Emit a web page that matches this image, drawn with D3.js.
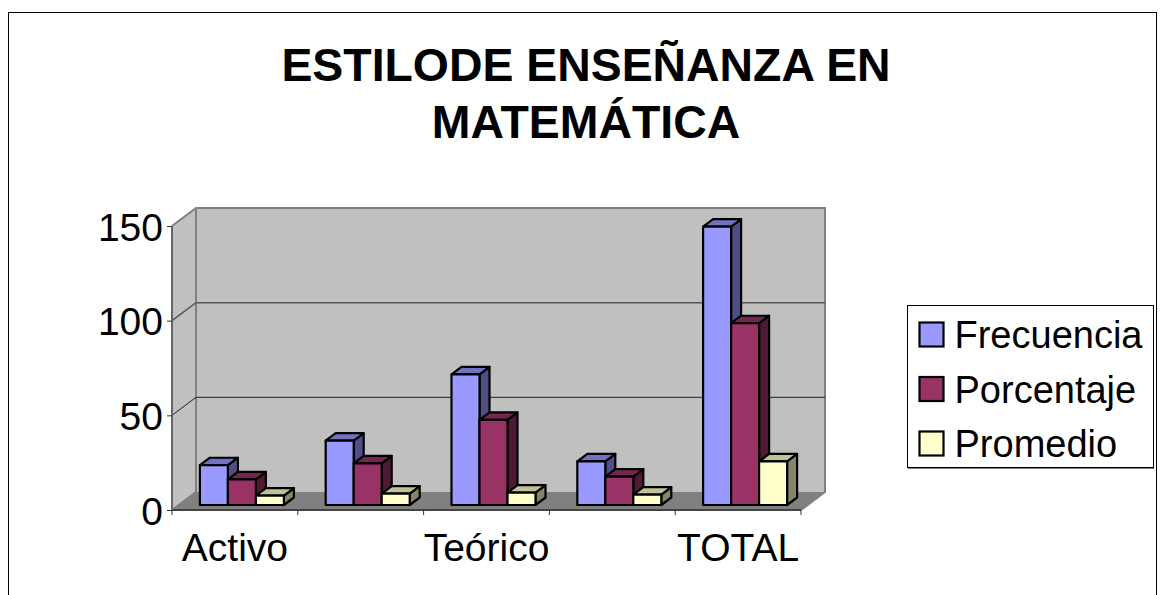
<!DOCTYPE html>
<html><head><meta charset="utf-8">
<script src="https://cdn.jsdelivr.net/npm/d3@7"></script>
<style>html,body{margin:0;padding:0;background:#fff}svg{display:block;font-family:"Liberation Sans",Arial,sans-serif}</style>
</head><body><div id="c"></div>
<script>
const categories = ["Activo", "Cat2", "Teórico", "Cat4", "TOTAL"];
const categoryLabels = ["Activo", "", "Teórico", "", "TOTAL"];
const seriesNames = ["Frecuencia", "Porcentaje", "Promedio"];
const frecuencia = [21, 34, 69, 23, 147];
const porcentaje = [13.5, 22, 45, 15, 96];
const promedio = [5, 6, 6.5, 5.5, 23];
const yTicks = [0, 50, 100, 150];
const titleLines = ["ESTILODE ENSEÑANZA EN", "MATEMÁTICA"];
const colors = ["#9999ff", "#993366", "#ffffcc"];
const tops = ["#7272c0", "#732650", "#c0c099"];
const sides = ["#4f4f85", "#4e1a35", "#858568"];

const W = 1166, H = 595;
const svg = d3.select("#c").append("svg").attr("width", W).attr("height", H);
svg.append("rect").attr("x", 8.5).attr("y", 12.5).attr("width", 1148).attr("height", 600)
  .attr("fill", "#fff").attr("stroke", "#000").attr("stroke-width", 1);

const x = d3.scaleBand().domain(categories).range([172, 801]);
const y = d3.scaleLinear().domain([0, 150]).range([510, 226]);
const depth = {dx: 24, dy: -18};
const pt = a => a.map(p => p.join(",")).join(" ");

// walls
const yb = v => y(v) + depth.dy, xL = x.range()[0], xR = x.range()[1];
svg.append("polygon").attr("points", pt([[xL, y(150)], [xL + depth.dx, yb(150)], [xL + depth.dx, yb(0)], [xL, y(0)]])).attr("fill", "#c0c0c0");
svg.append("polygon").attr("points", pt([[xL + depth.dx, yb(150)], [xR + depth.dx, yb(150)], [xR + depth.dx, yb(0)], [xL + depth.dx, yb(0)]])).attr("fill", "#c0c0c0");
svg.append("polygon").attr("points", pt([[xL, y(0)], [xL + depth.dx, yb(0)], [xR + depth.dx, yb(0)], [xR, y(0)]])).attr("fill", "#808080");
svg.append("polyline").attr("points", pt([[xL, y(150)], [xL + depth.dx, yb(150)], [xR + depth.dx, yb(150)], [xR + depth.dx, yb(0)], [xR, y(0)]]))
  .attr("fill", "none").attr("stroke", "#808080").attr("stroke-width", 2);
svg.append("line").attr("x1", xL + depth.dx).attr("x2", xL + depth.dx).attr("y1", yb(150)).attr("y2", yb(0)).attr("stroke", "#808080").attr("stroke-width", 2);
svg.append("line").attr("x1", xL).attr("x2", xL + depth.dx).attr("y1", y(0)).attr("y2", yb(0)).attr("stroke", "#808080").attr("stroke-width", 2);

// gridlines
yTicks.filter(t => t > 0 && t < 150).forEach(t => {
  svg.append("polyline").attr("points", pt([[xL, y(t)], [xL + depth.dx, yb(t)], [xR + depth.dx, yb(t)]]))
    .attr("fill", "none").attr("stroke", t === 100 ? "#555" : "#222").attr("stroke-width", t === 100 ? 1.5 : 1);
});

// axes
const ax = svg.append("g").attr("transform", `translate(0,${y(0)})`).call(
  d3.axisBottom(x).tickSize(5).tickPadding(15).tickFormat((d, i) => categoryLabels[i])
);
ax.selectAll(".tick").remove();
ax.select(".domain").attr("stroke", "#444").attr("stroke-width", 2).attr("d", `M${xL},0H${xR}`);
const tickXs = d3.range(categories.length + 1).map(i => xL + i * x.step());
ax.selectAll("line.t").data(tickXs).join("line").attr("class", "t").attr("x1", d => d).attr("x2", d => d).attr("y1", 0).attr("y2", 5).attr("stroke", "#333");
svg.selectAll("text.cat").data(categories).join("text").attr("class", "cat")
  .attr("x", d => x(d) + x.bandwidth() / 2).attr("y", 560.5).attr("text-anchor", "middle")
  .attr("font-size", 39).attr("fill", "#000").text((d, i) => categoryLabels[i]);

const ay = svg.append("g").attr("transform", `translate(${xL},0)`).call(
  d3.axisLeft(y).tickValues(yTicks).tickSize(5).tickPadding(4)
);
ay.select(".domain").attr("stroke", "#666").attr("stroke-width", 2).attr("d", `M0,${y(150)}V${y(0)}`);
ay.selectAll(".tick line").attr("stroke", "#333");
ay.selectAll(".tick text").attr("font-size", 39).attr("dy", "0.36em").attr("font-family", '"Liberation Sans",Arial,sans-serif').attr("fill", "#000");

// bars
const series = [frecuencia, porcentaje, promedio];
const barW = 28, off = {dx: 7, dy: -5}, bar = {dx: 10, dy: -7.5};
const h0 = y(0) + off.dy;
const group = svg.append("g").attr("stroke", "#000").attr("stroke-width", 2.2).attr("stroke-linejoin", "round");
categories.forEach((c, ci) => {
  const cx = x(c) + x.bandwidth() / 2 + off.dx;
  series.forEach((vals, si) => {
    const x0 = cx - 1.5 * barW + si * barW, x1 = x0 + barW;
    const top = y(vals[ci]) + off.dy;
    group.append("polygon").attr("fill", sides[si]).attr("points", pt([[x1, top], [x1 + bar.dx, top + bar.dy], [x1 + bar.dx, h0 + bar.dy], [x1, h0]]));
    group.append("polygon").attr("fill", tops[si]).attr("points", pt([[x0, top], [x0 + bar.dx, top + bar.dy], [x1 + bar.dx, top + bar.dy], [x1, top]]));
    group.append("rect").attr("fill", colors[si]).attr("x", x0).attr("y", top).attr("width", barW).attr("height", h0 - top);
  });
});

// title
svg.selectAll("text.title").data(titleLines).join("text").attr("class", "title")
  .attr("x", 586).attr("y", (d, i) => 80.5 + i * 57).attr("text-anchor", "middle")
  .attr("font-size", 46.4).attr("font-weight", "bold").attr("fill", "#000").text(d => d);

// legend
svg.append("rect").attr("x", 908).attr("y", 306).attr("width", 246).attr("height", 163).attr("fill", "#808080");
svg.append("rect").attr("x", 907.5).attr("y", 305.5).attr("width", 246).attr("height", 162).attr("fill", "#fff").attr("stroke", "#000");
const ly = d3.scalePoint().domain(seriesNames).range([334.5, 443.5]);
seriesNames.forEach((n, i) => {
  svg.append("rect").attr("x", 919.5).attr("y", ly(n) - 12).attr("width", 24).attr("height", 24)
    .attr("fill", colors[i]).attr("stroke", "#000").attr("stroke-width", 2.2);
  svg.append("text").attr("x", 954.5).attr("y", ly(n) + 13.5).attr("font-size", 38).attr("fill", "#000").text(n);
});
</script></body></html>
